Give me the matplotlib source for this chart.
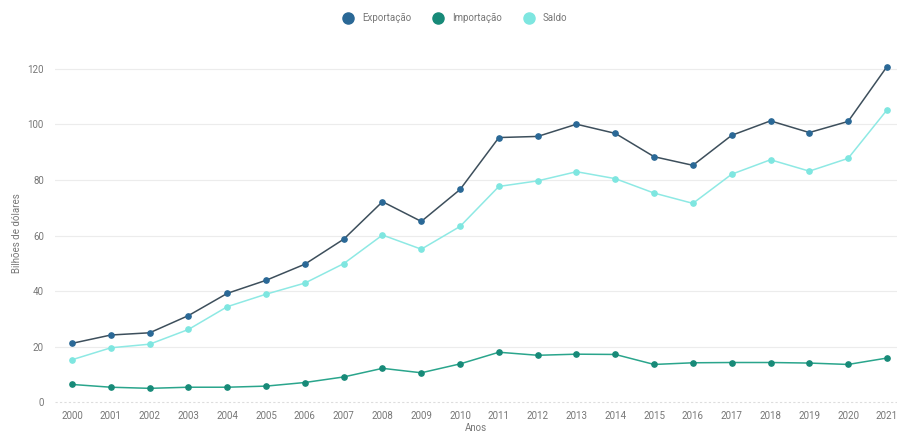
import matplotlib
matplotlib.use("Agg")
import matplotlib.pyplot as plt
from matplotlib.lines import Line2D

plt.rcParams['font.family'] = ['Roboto', 'DejaVu Sans']

anos = [str(a) for a in range(2000, 2022)]
exportacao = [21.2, 24.2, 25.0, 31.2, 39.2, 43.9, 49.7, 58.7, 72.2, 65.1, 76.6,
              95.3, 95.7, 100.1, 96.8, 88.4, 85.3, 96.1, 101.3, 97.1, 101.1, 120.8]
importacao = [6.4, 5.4, 5.0, 5.4, 5.4, 5.8, 7.1, 9.1, 12.2, 10.6, 13.8,
              18.0, 16.9, 17.3, 17.2, 13.6, 14.2, 14.3, 14.3, 14.1, 13.6, 15.9]
saldo = [15.3, 19.6, 20.9, 26.2, 34.4, 38.9, 42.9, 49.9, 60.2, 55.1, 63.3,
         77.7, 79.7, 83.0, 80.5, 75.3, 71.6, 82.1, 87.3, 83.2, 87.8, 105.2]
y_ticks = [0, 20, 40, 60, 80, 100, 120]

fig = plt.figure(figsize=(8.97, 4.34), dpi=100)
ax = fig.add_axes([55/897, 29/434, 842/897, 343/434])

x = list(range(len(anos)))
series = [
    ("Exportação", exportacao, "#2a6896", "#3d4f5c"),
    ("Importação", importacao, "#178a78", "#2aa58c"),
    ("Saldo", saldo, "#7ee6e0", "#8ee9e4"),
]
for name, vals, mc, lc in series:
    ax.plot(x, vals, color=lc, lw=1.1, zorder=3, clip_on=False)
    ax.plot(x, vals, ls='none', marker='o', ms=3.8, color=mc, zorder=4, clip_on=False)

ax.set_xlim(-0.44, 21.26)
ax.set_ylim(-1, 122.5)
ax.set_xticks(x)
ax.set_xticklabels(anos)
ax.set_yticks(y_ticks)
ax.set_yticklabels([str(v) for v in y_ticks])
for v in y_ticks:
    if v == 0:
        ax.axhline(v, color="#dddddd", lw=0.8, ls=(0, (2, 2)), zorder=1)
    else:
        ax.axhline(v, color="#ececec", lw=0.8, zorder=1)

for s in ax.spines.values():
    s.set_visible(False)
ax.tick_params(axis='both', length=0, labelsize=7, colors="#777777")
ax.tick_params(axis='y', pad=8)
ax.tick_params(axis='x', pad=4)

ax.set_ylabel("Bilhões de dólares", fontsize=7, color="#777777", labelpad=4)
ax.set_xlabel("Anos", fontsize=7, color="#777777", labelpad=2)

handles = [Line2D([], [], ls='none', marker='o', ms=8, color=mc) for _, _, mc, _ in series]
fig.legend(handles, [s[0] for s in series], loc='upper center', ncol=3,
           bbox_to_anchor=(0.505, 0.99), frameon=False, fontsize=7,
           labelcolor="#777777", handletextpad=0.4, columnspacing=1.8)

fig.savefig("out.png", dpi=100)
